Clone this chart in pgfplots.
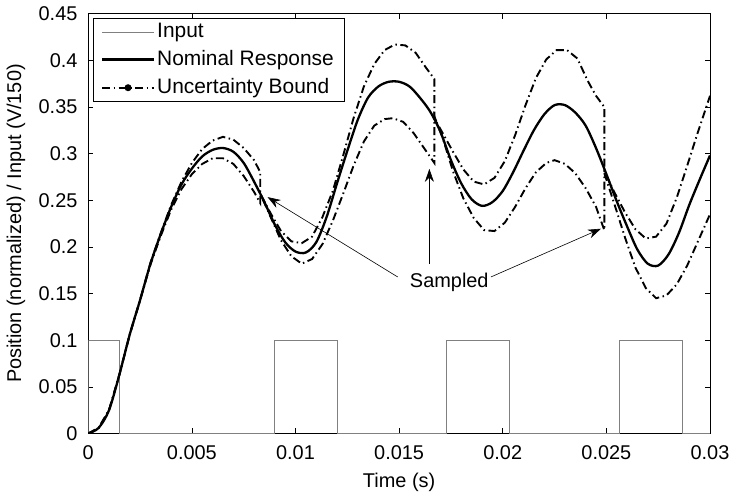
\documentclass[border=0pt]{standalone}
\usepackage{pgfplots}
\pgfplotsset{compat=1.18}
\usepackage{fontspec}
\setmainfont{Liberation Sans}
\usetikzlibrary{arrows.meta}
\begin{document}
\fontsize{20}{24}\selectfont
\begin{tikzpicture}
\begin{axis}[
  scale only axis, width=622bp, height=420bp,
  xmin=0, xmax=0.03, ymin=0, ymax=0.45,
  scaled x ticks=false, scaled y ticks=false,
  xtick={0,0.005,0.01,0.015,0.02,0.025,0.03},
  xticklabels={0,0.005,0.01,0.015,0.02,0.025,0.03},
  ytick={0,0.05,0.1,0.15,0.2,0.25,0.3,0.35,0.4,0.45},
  yticklabels={0,0.05,0.1,0.15,0.2,0.25,0.3,0.35,0.4,0.45},
  /pgf/number format/assume math mode=true,
  tick align=inside, major tick length=5bp,
  tick style={black, line width=0.6bp},
  axis line style={black, line width=0.8bp},
  every tick label/.append style={font=\fontsize{20}{24}\selectfont},
  xlabel={Time (s)}, ylabel={Position (normalized) / Input (V/150)},
  label style={font=\fontsize{20}{24}\selectfont},
  xticklabel style={yshift=-5bp},
  yticklabel style={xshift=-4bp},
  xlabel style={yshift=0bp},
  ylabel style={yshift=0bp},
  legend cell align=left,
  legend image code/.code={\draw[mark repeat=2, mark phase=2, #1] plot coordinates {(0bp,0bp) (26bp,0bp) (52bp,0bp)};},
  legend style={at={(0.007,0.99)}, anchor=north west, draw=black, line width=0.6bp, fill=white,
    font=\fontsize{21}{25}\selectfont, inner xsep=8bp, inner ysep=3bp, row sep=6bp,
    /tikz/every even column/.append style={column sep=2bp}},
  clip=true,
]
\addplot[gray, line width=0.7bp] coordinates {
(0,0) (0,0.1) (0.00148,0.1) (0.00148,0) (0.009,0) (0.009,0.1) (0.012,0.1) (0.012,0)
(0.0173,0) (0.0173,0.1) (0.0203,0.1) (0.0203,0) (0.02565,0) (0.02565,0.1) (0.02865,0.1) (0.02865,0) (0.03,0)};
\addlegendentry{Input}
\addplot[black, line width=2.3bp, smooth, tension=0.5] coordinates {
(0,0) (0.0005,0.006) (0.001,0.025) (0.0015,0.063) (0.002,0.106) (0.0025,0.143) (0.003,0.182) (0.0035,0.214)
(0.004,0.243) (0.0045,0.267) (0.005,0.284) (0.0055,0.297) (0.006,0.304) (0.0065,0.306) (0.007,0.302)
(0.0075,0.29) (0.008,0.27) (0.0085,0.248) (0.009,0.224) (0.0095,0.205) (0.01,0.195) (0.0105,0.194)
(0.011,0.205) (0.0115,0.232) (0.012,0.268) (0.0125,0.303) (0.013,0.336) (0.0135,0.36) (0.014,0.372)
(0.0145,0.377) (0.015,0.377) (0.0155,0.372) (0.016,0.36) (0.0165,0.345) (0.017,0.323) (0.0175,0.293)
(0.018,0.268) (0.0185,0.251) (0.019,0.244) (0.0195,0.248) (0.02,0.26) (0.0205,0.28) (0.021,0.303)
(0.0215,0.325) (0.022,0.342) (0.0225,0.352) (0.023,0.352) (0.0235,0.344) (0.024,0.33) (0.0245,0.306)
(0.025,0.278) (0.0255,0.249) (0.026,0.222) (0.0265,0.197) (0.027,0.182) (0.0275,0.18) (0.028,0.192)
(0.0285,0.215) (0.029,0.245) (0.0295,0.272) (0.03,0.298)};
\addlegendentry{Nominal Response}
\addplot[black, line width=1.9bp, dash pattern=on 8bp off 3.5bp on 1.5bp off 3.5bp,
  legend image post style={mark=*, mark size=2.5bp, mark options={solid}}] coordinates {
(0,0) (0.0005,0.006) (0.001,0.025) (0.0015,0.063) (0.002,0.106) (0.0025,0.143) (0.003,0.183) (0.0035,0.215)
(0.004,0.245) (0.0045,0.27) (0.005,0.29) (0.0055,0.305) (0.006,0.314) (0.0065,0.318) (0.007,0.315)
(0.0075,0.306) (0.008,0.293) (0.0083,0.28) (0.0083,0.257) (0.0088,0.236) (0.0093,0.217) (0.0098,0.206)
(0.0103,0.204) (0.0108,0.211) (0.0113,0.232) (0.0118,0.26) (0.0123,0.298) (0.0128,0.338) (0.0133,0.372)
(0.0138,0.396) (0.0143,0.411) (0.0148,0.417) (0.0153,0.416) (0.0158,0.408) (0.0163,0.392) (0.0167,0.38)
(0.0167,0.338) (0.0171,0.322) (0.0176,0.302) (0.0181,0.283) (0.0186,0.27) (0.0191,0.267) (0.0196,0.274)
(0.0201,0.292) (0.0206,0.32) (0.0211,0.352) (0.0216,0.381) (0.0221,0.401) (0.0226,0.411) (0.0231,0.411)
(0.0236,0.402) (0.0241,0.378) (0.0245,0.362) (0.0249,0.35) (0.0249,0.281) (0.0254,0.258) (0.0259,0.237)
(0.0264,0.219) (0.0269,0.209) (0.0274,0.211) (0.0279,0.225) (0.0284,0.253) (0.0289,0.287) (0.0294,0.322)
(0.03,0.362)};
\addlegendentry{Uncertainty Bound}
\addplot[black, line width=1.9bp, dash pattern=on 8bp off 3.5bp on 1.5bp off 3.5bp, forget plot] coordinates {
(0,0) (0.0005,0.006) (0.001,0.025) (0.0015,0.063) (0.002,0.106) (0.0025,0.143) (0.003,0.181) (0.0035,0.212)
(0.004,0.24) (0.0045,0.262) (0.005,0.278) (0.0055,0.289) (0.006,0.295) (0.0065,0.295) (0.007,0.289)
(0.0075,0.276) (0.008,0.259) (0.0083,0.247) (0.0083,0.257) (0.0088,0.232) (0.0093,0.207) (0.0098,0.19)
(0.0103,0.182) (0.0108,0.187) (0.0113,0.203) (0.0118,0.228) (0.0123,0.257) (0.0128,0.287) (0.0133,0.313)
(0.0138,0.33) (0.0143,0.337) (0.0147,0.338) (0.0152,0.334) (0.0157,0.322) (0.0162,0.306) (0.0167,0.29)
(0.0167,0.34) (0.0171,0.317) (0.0176,0.281) (0.0181,0.252) (0.0186,0.231) (0.0191,0.218) (0.0196,0.217)
(0.0201,0.226) (0.0206,0.243) (0.0211,0.263) (0.0216,0.28) (0.0221,0.29) (0.0225,0.293) (0.023,0.289)
(0.0235,0.279) (0.024,0.263) (0.0245,0.243) (0.0249,0.218) (0.0249,0.279) (0.0254,0.245) (0.0259,0.21)
(0.0264,0.178) (0.0269,0.156) (0.0274,0.145) (0.0279,0.148) (0.0284,0.16) (0.0289,0.18) (0.0294,0.205)
(0.03,0.235)};
\draw[black, line width=0.6bp, -{Stealth[length=13bp,width=9bp]}] (axis cs:0.01493,0.1678) -- (axis cs:0.00865,0.2534);
\draw[black, line width=0.6bp, -{Stealth[length=13bp,width=9bp]}] (axis cs:0.01646,0.182) -- (axis cs:0.01646,0.2837);
\draw[black, line width=0.6bp, -{Stealth[length=13bp,width=9bp]}] (axis cs:0.01943,0.1678) -- (axis cs:0.02474,0.2195);
\node[fill=white, inner sep=1bp, font=\fontsize{20}{24}\selectfont] at (axis cs:0.01742,0.1624) {Sampled};
\end{axis}
\end{tikzpicture}
\end{document}
